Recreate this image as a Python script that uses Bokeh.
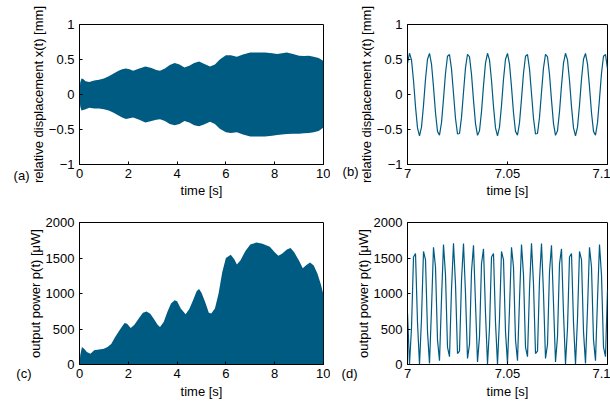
import numpy as np
from bokeh.plotting import figure
from bokeh.layouts import row, column
from bokeh.models import Range1d, FixedTicker, CustomJSTickFormatter, LinearAxis
from bokeh.embed import file_html
from bokeh.resources import INLINE

# ---- data ----
# (a) envelope of relative displacement over 0..10 s
t_env_x = [0, 0.03, 0.08, 0.15, 0.25, 0.4, 0.6, 0.8, 1.0, 1.2, 1.4, 1.6, 1.75, 1.9, 2.05,
           2.2, 2.45, 2.7, 2.95, 3.15, 3.3, 3.5, 3.7, 3.9, 4.1, 4.3, 4.5, 4.7, 4.9, 5.1,
           5.35, 5.55, 5.75, 6.0, 6.2, 6.45, 6.7, 7.0, 7.3, 7.6, 7.9, 8.1, 8.3, 8.5, 8.75,
           9.0, 9.2, 9.4, 9.6, 9.8, 10.0]
x_upper = [0.05, 0.17, 0.23, 0.22, 0.19, 0.18, 0.20, 0.21, 0.23, 0.26, 0.30, 0.34, 0.36, 0.37, 0.36,
           0.34, 0.37, 0.40, 0.38, 0.35, 0.34, 0.37, 0.42, 0.45, 0.43, 0.385, 0.41, 0.45, 0.47, 0.44,
           0.40, 0.43, 0.50, 0.56, 0.56, 0.54, 0.57, 0.60, 0.60, 0.60, 0.59, 0.58, 0.59, 0.60, 0.58,
           0.555, 0.55, 0.555, 0.54, 0.52, 0.48]
x_lower = [-0.05, -0.17, -0.23, -0.22, -0.21, -0.19, -0.20, -0.20, -0.21, -0.23, -0.26, -0.30, -0.33, -0.35, -0.34,
           -0.33, -0.36, -0.40, -0.38, -0.36, -0.355, -0.38, -0.42, -0.44, -0.42, -0.38, -0.40, -0.44, -0.455, -0.43,
           -0.39, -0.42, -0.49, -0.54, -0.55, -0.54, -0.57, -0.60, -0.60, -0.60, -0.59, -0.58, -0.57, -0.565, -0.56,
           -0.56, -0.555, -0.55, -0.54, -0.52, -0.47]

# (c) envelope of output power over 0..10 s
t_env_p = [0, 0.03, 0.1, 0.2, 0.3, 0.45, 0.6, 0.8, 1.0, 1.15, 1.3, 1.45, 1.6, 1.75, 1.85,
           1.95, 2.1, 2.25, 2.45, 2.6, 2.75, 2.9, 3.05, 3.2, 3.3, 3.45, 3.6, 3.75, 3.9, 4.0,
           4.15, 4.35, 4.5, 4.65, 4.8, 4.9, 5.0, 5.15, 5.3, 5.4, 5.55, 5.7, 5.85, 6.0, 6.2,
           6.35, 6.45, 6.6, 6.8, 7.0, 7.25, 7.5, 7.8, 8.0, 8.15, 8.3, 8.5, 8.65, 8.8, 9.0,
           9.15, 9.3, 9.45, 9.6, 9.75, 9.9, 10.0]
p_upper = [0, 130, 245, 220, 175, 150, 200, 210, 222, 245, 290, 380, 460, 540, 585,
           575, 514, 560, 660, 730, 745, 715, 640, 560, 528, 600, 740, 860, 905, 890,
           790, 707, 780, 900, 1030, 1065, 1010, 880, 730, 720, 790, 1000, 1300, 1500, 1545,
           1480, 1410, 1470, 1600, 1690, 1717, 1700, 1660, 1580, 1533, 1560, 1620, 1640, 1580, 1460,
           1355, 1400, 1435, 1395, 1280, 1120, 980]

# (b), (d) samples 7.000 .. 7.100 s, one per ms
t_zoom = [round(7.0 + 0.001 * i, 3) for i in range(101)]
x_zoom = [0.448, 0.589, 0.494, 0.200, -0.173, -0.477, -0.590, -0.466, -0.155, 0.218,
          0.504, 0.587, 0.435, 0.109, -0.261, -0.527, -0.581, -0.402, -0.062, 0.303,
          0.546, 0.571, 0.366, 0.014, -0.343, -0.563, -0.557, -0.327, 0.033, 0.380,
          0.575, 0.539, 0.287, -0.081, -0.416, -0.584, -0.518, -0.244, 0.127,
          0.448, 0.589, 0.494, 0.200, -0.173, -0.477, -0.590, -0.466, -0.155, 0.218,
          0.504, 0.587, 0.435, 0.109, -0.261, -0.527, -0.581, -0.402, -0.062, 0.303,
          0.546, 0.571, 0.366, 0.014, -0.343, -0.563, -0.557, -0.327, 0.033, 0.380,
          0.575, 0.539, 0.287, -0.081, -0.416, -0.584, -0.518, -0.244, 0.127,
          0.448, 0.589, 0.494, 0.200, -0.173, -0.477, -0.590, -0.466, -0.155, 0.218,
          0.504, 0.587, 0.435, 0.109, -0.261, -0.527, -0.581, -0.402, -0.062, 0.303,
          0.546, 0.571, 0.366]
p_zoom = [725, 7, 514, 1513, 1563, 591, 0, 644, 1592, 1476,
          464, 16, 779, 1652, 1374, 347, 53, 917, 1691, 1259,
          243, 111, 1053, 1709, 1132, 155, 188, 1184, 1705, 999,
          85, 283, 1306, 1678, 862, 36, 392, 1417, 1630,
          725, 7, 514, 1513, 1563, 591, 0, 644, 1592, 1476,
          464, 16, 779, 1652, 1374, 347, 53, 917, 1691, 1259,
          243, 111, 1053, 1709, 1132, 155, 188, 1184, 1705, 999,
          85, 283, 1306, 1678, 862, 36, 392, 1417, 1630,
          725, 7, 514, 1513, 1563, 591, 0, 644, 1592, 1476,
          464, 16, 779, 1652, 1374, 347, 53, 917, 1691, 1259,
          243, 111, 1053]

ticks_long = [0, 2, 4, 6, 8, 10]
ticks_short = [7, 7.05, 7.1]
ticks_x = [-1, -0.5, 0, 0.5, 1]
ticks_p = [0, 500, 1000, 1500, 2000]
panel_tags = ["(a)", "(b)", "(c)", "(d)"]

COLOR = "#005b82"
FONT = "Liberation Sans"
FS = "13px"
fmt_code = "return String(tick).replace('-', '\u2212');"


def style_axis(ax):
    ax.axis_line_color = "black"
    ax.major_tick_line_color = "black"
    ax.major_tick_in = 3
    ax.major_tick_out = 0
    ax.minor_tick_line_color = None
    ax.major_label_text_font = FONT
    ax.major_label_text_font_size = FS
    ax.major_label_text_color = "black"
    ax.axis_label_text_font = FONT
    ax.axis_label_text_font_size = FS
    ax.axis_label_text_font_style = "normal"
    ax.axis_label_text_color = "black"


def panel(w, h, xr, yr, bl, br, bt, bb, xt, yt, ylabel, xstand):
    f = figure(width=w, height=h, x_range=Range1d(*xr), y_range=Range1d(*yr),
               output_backend="svg", toolbar_location=None, tools="",
               min_border_left=bl, min_border_right=br, min_border_top=bt, min_border_bottom=bb)
    f.grid.visible = False
    f.outline_line_color = "black"
    f.outline_line_alpha = 1
    f.outline_line_width = 1
    f.background_fill_color = "white"
    f.border_fill_color = "white"
    f.xaxis.ticker = FixedTicker(ticks=xt)
    f.yaxis.ticker = FixedTicker(ticks=yt)
    for ax in f.axis:
        ax.formatter = CustomJSTickFormatter(code=fmt_code)
        style_axis(ax)
    f.xaxis.major_label_standoff = 4
    f.xaxis.axis_label_standoff = xstand
    f.yaxis.major_label_standoff = 5
    f.yaxis.axis_label_standoff = 0
    f.xaxis.axis_label = "time [s]"
    f.yaxis.axis_label = ylabel
    return f


def tag(f, text, v, standoff, lh):
    # panel letter drawn as the single label of an extra, line-less left axis;
    # the leading empty line pushes the letter just below the frame bottom
    ax = LinearAxis(ticker=FixedTicker(ticks=[v]),
                    formatter=CustomJSTickFormatter(code="return '\\n%s';" % text))
    style_axis(ax)
    ax.axis_line_color = None
    ax.major_tick_line_color = None
    ax.major_label_standoff = standoff
    ax.axis_label_standoff = 0
    ax.major_label_text_line_height = lh
    f.add_layout(ax, "left")


# (a)  canvas x 0..330, y 0..200 ; frame 79..323 x 24..165
pa = panel(330, 200, (0, 10), (-1, 1), 79, 7, 24, 35, ticks_long, ticks_x,
           "relative displacement x(t) [mm]", 2)
pa.varea(x=t_env_x, y1=x_lower, y2=x_upper, fill_color=COLOR, fill_alpha=1)
tag(pa, panel_tags[0], -1, -2, 1.4)

# (b)  canvas x 330..610 ; frame 407..607
pb = panel(280, 200, (7, 7.1), (-1, 1), 77, 3, 24, 35, ticks_short, ticks_x,
           "relative displacement x(t) [mm]", 2)
pb.line(t_zoom, x_zoom, line_color=COLOR, line_width=1.2)
tag(pb, panel_tags[1], -1, -3, 0.9)

# (c)  canvas y 200..401 ; frame 222..364
pc = panel(330, 201, (0, 10), (0, 2000), 79, 7, 22, 37, ticks_long, ticks_p,
           "output power p(t) [\u03bcW]", 3)
pc.varea(x=t_env_p, y1=[0] * len(t_env_p), y2=p_upper, fill_color=COLOR, fill_alpha=1)
tag(pc, panel_tags[2], 0, -7, 1.15)

# (d)
pd = panel(280, 201, (7, 7.1), (0, 2000), 77, 3, 22, 37, ticks_short, ticks_p,
           "output power p(t) [\u03bcW]", 3)
pd.line(t_zoom, p_zoom, line_color=COLOR, line_width=1.2)
tag(pd, panel_tags[3], 0, -5, 1.2)

layout = column(row(pa, pb), row(pc, pd))
open("out.html", "w").write(file_html(layout, INLINE))
